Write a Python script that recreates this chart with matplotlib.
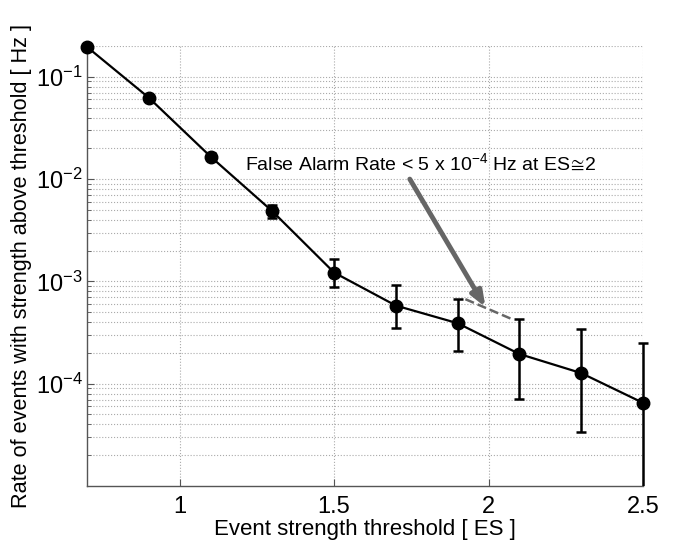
import matplotlib
matplotlib.use("Agg")
import matplotlib.pyplot as plt
import numpy as np
from matplotlib.ticker import FixedLocator, LogLocator, NullFormatter
from matplotlib.patches import Rectangle

plt.rcParams['font.family'] = ['Liberation Sans', 'DejaVu Sans']
plt.rcParams['mathtext.default'] = 'regular'

# Data
threshold = [0.7, 0.9, 1.1, 1.3, 1.5, 1.7, 1.9, 2.1, 2.3, 2.5]
rate = [0.196, 0.0625, 0.0166, 0.00485, 0.00122, 5.8e-4, 3.9e-4, 1.95e-4, 1.27e-4, 6.5e-5]
rate_hi = [0.196, 0.065, 0.0179, 0.0056, 0.00165, 9.3e-4, 6.8e-4, 4.3e-4, 3.4e-4, 2.5e-4]
rate_lo = [0.196, 0.060, 0.0155, 0.0042, 8.8e-4, 3.5e-4, 2.1e-4, 7.1e-5, 3.4e-5, 1e-7]
x_ticks = [1, 1.5, 2, 2.5]
x_tick_labels = ['1', '1.5', '2', '2.5']
y_ticks = [1e-4, 1e-3, 1e-2, 1e-1]
y_tick_labels = [r'$10^{-4}$', r'$10^{-3}$', r'$10^{-2}$', r'$10^{-1}$']
annotation_text = r'False Alarm Rate < 5 x 10$^{-4}$ Hz at ES$\!\cong\!$2'

fig = plt.figure(figsize=(6.79, 5.42), dpi=100)
ax = fig.add_axes([87/679, 56/542, 556/679, 440/542])

rate_a = np.array(rate)
yerr = [rate_a - np.array(rate_lo), np.array(rate_hi) - rate_a]
eb = ax.errorbar(threshold, rate, yerr=yerr, color='black', lw=0, elinewidth=1.8,
                 capsize=3.5, capthick=1.8, fmt='none', zorder=4)
clip_rect = Rectangle((-0.1, 0.0), 1.2, 1.2, transform=ax.transAxes,
                      facecolor='none', edgecolor='none')
ax.add_patch(clip_rect)
for art in list(eb.lines[1]) + list(eb.lines[2]):
    art.set_clip_path(clip_rect)
ax.plot(threshold, rate, color='black', lw=1.6, marker='o', markersize=9,
        zorder=5, clip_on=False)

ax.set_yscale('log')
ax.set_xlim(0.7, 2.5)
ax.set_ylim(1e-5, 0.2)

ax.xaxis.set_major_locator(FixedLocator(x_ticks))
ax.set_xticklabels(x_tick_labels)
ax.yaxis.set_major_locator(FixedLocator(y_ticks))
ax.set_yticklabels(y_tick_labels)
ax.yaxis.set_minor_locator(LogLocator(base=10, subs=np.arange(2, 10)))
ax.yaxis.set_minor_formatter(NullFormatter())

ax.grid(True, which='major', axis='both', linestyle=':', color='#aaaaaa', lw=0.8)
ax.grid(True, which='minor', axis='y', linestyle=':', color='#aaaaaa', lw=0.8)

for s in ['top', 'right']:
    ax.spines[s].set_visible(False)
for s in ['left', 'bottom']:
    ax.spines[s].set_color('#555555')
    ax.spines[s].set_linewidth(1.0)
ax.tick_params(which='both', direction='in', colors='#555555', labelcolor='black',
               labelsize=17)
ax.tick_params(which='major', length=5)
ax.tick_params(which='minor', length=3)
ax.tick_params(axis='x', pad=7)
ax.tick_params(axis='y', pad=3)

ax.set_xlabel('Event strength threshold [ ES ]', fontsize=16, labelpad=1)
ax.set_ylabel('Rate of events with strength above threshold [ Hz ]', fontsize=15.6, labelpad=3)

ax.text(1.21, 0.0141, annotation_text, fontsize=14, va='center', ha='left', zorder=6)
ax.annotate('', xy=(1.99, 5.6e-4), xytext=(1.745, 1.0e-2),
            arrowprops=dict(arrowstyle='-|>,head_length=0.9,head_width=0.35',
                            color='#666666', lw=3.5, shrinkA=0, shrinkB=0), zorder=6)
ax.plot([1.925, 2.074], [6.7e-4, 4.3e-4], linestyle='--', color='#666666', lw=1.8, zorder=4)

fig.savefig('out.png', dpi=100)
